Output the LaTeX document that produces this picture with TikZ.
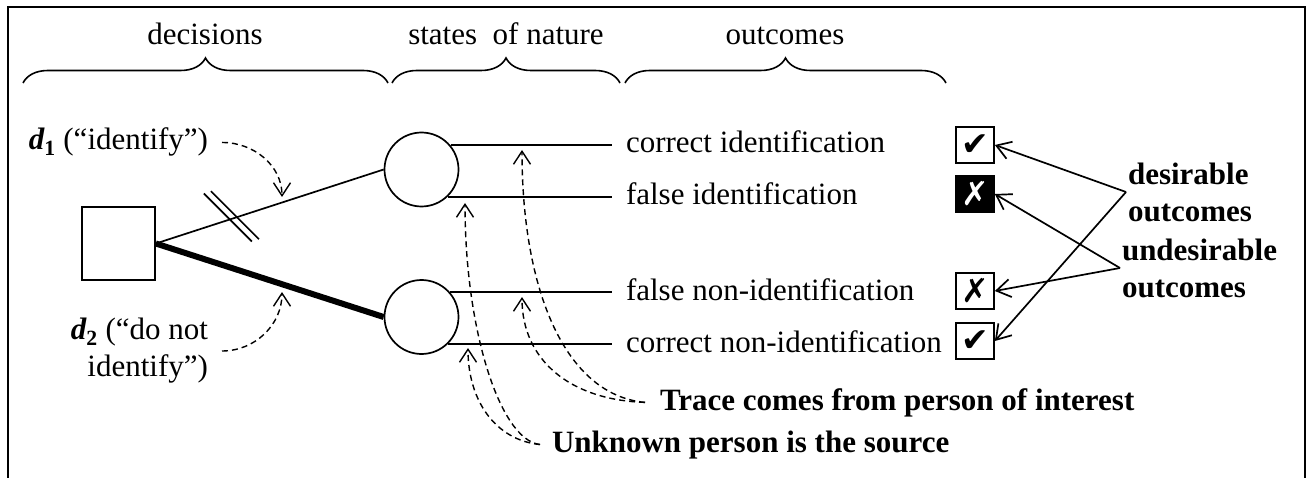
\documentclass[tikz,border=0pt]{standalone}
\usepackage{fontspec}
\setmainfont{Liberation Serif}
\newfontfamily\symfont{DejaVu Sans}
\usetikzlibrary{arrows.meta,decorations.pathreplacing}
\begin{document}
\begin{tikzpicture}[x=1pt,y=-1pt,
  every node/.style={font=\fontsize{31}{37}\selectfont},
  thinl/.style={line width=1.7pt},
  bracel/.style={line width=1.6pt, decorate, decoration={brace, amplitude=25pt}},
  tick/.style={draw, line width=1.7pt, minimum width=38pt, minimum height=36pt, inner sep=0pt, font=\symfont\fontsize{33}{33}\selectfont},
  outcome/.style={anchor=base west, inner xsep=0pt, outer xsep=14pt},
  note/.style={font=\bfseries\fontsize{31}{37}\selectfont},
  dasharrow/.style={line width=1.4pt, dash pattern=on 6pt off 4pt, -{Straight Barb[length=13pt,width=17pt]}},
  pointer/.style={line width=1.7pt, -{Straight Barb[length=14pt,width=18pt]}}]
\useasboundingbox (0,0) rectangle (1308,478);
% frame
\draw[line width=2.5pt] (8,478) -- (8,7) -- (1305,7) -- (1305,478);
% headings and braces
\node[anchor=base] (hdec) at (205,45) {decisions};
\node[anchor=base] (hsta) at (506,45) {states\ \ of nature};
\node[anchor=base] (hout) at (785,45) {outcomes};
\draw[bracel] (23,83) -- (388,83);
\draw[bracel] (392,83) -- (620,83);
\draw[bracel] (625,83) -- (946,83);
% decision node and chance nodes
\node[draw, line width=1.7pt, minimum size=73pt, inner sep=0pt] (sq) at (118.5,243.5) {};
\node[draw, circle, line width=1.7pt, minimum size=74pt, inner sep=0pt] (c1) at (421.5,169.5) {};
\node[draw, circle, line width=1.7pt, minimum size=74pt, inner sep=0pt] (c2) at (421.5,317) {};
\draw[thinl] (sq.east) -- (c1.west);
\draw[line width=6pt] (sq.east) -- (c2.west);
% double slash
\path (sq.east) -- (c1.west) coordinate[pos=0.325] (m1) coordinate[pos=0.356] (m2);
\draw[thinl] (m1) ++(-26,-26) -- ++(48,48);
\draw[thinl] (m2) ++(-26,-26) -- ++(48,48);
% outcomes
\node[outcome] (o1) at (612,153) {correct identification};
\node[outcome] (o2) at (612,205) {false identification};
\node[outcome] (o3) at (612,300) {false non-identification};
\node[outcome] (o4) at (612,352) {correct non-identification};
\draw[thinl] (c1.40.5) -- (c1.40.5 -| o1.west);
\draw[thinl] (c1.-46.8) -- (c1.-46.8 -| o2.west);
\draw[thinl] (c2.41.5) -- (c2.41.5 -| o3.west);
\draw[thinl] (c2.-45.7) -- (c2.-45.7 -| o4.west);
% tick boxes
\node[tick] (b1) at (975,145) {✔};
\node[tick, fill=black, text=white] (b2) at (975,194) {✗};
\node[tick] (b3) at (975,291) {✗};
\node[tick] (b4) at (975,341) {✔};
% right labels
\node[note, anchor=west, align=left, inner sep=2pt, outer sep=0pt] (des) at (1126,192) {desirable\\outcomes};
\node[note, anchor=west, align=left, inner sep=2pt, outer sep=0pt] (und) at (1120,268) {undesirable\\outcomes};
\draw[pointer] (des.west) -- (b1.east);
\draw[pointer] (des.west) -- (b4.east);
\draw[pointer] (und.west) -- (b2.east);
\draw[pointer] (und.west) -- (b3.east);
% decision labels
\node[anchor=base east, inner xsep=0pt, outer xsep=14pt] (d1) at (222,150) {{\bfseries\itshape d}\textsubscript{\bfseries 1} (``identify'')};
\node[anchor=east, align=right, inner xsep=0pt, outer xsep=14pt] (d2) at (222,351) {{\bfseries\itshape d}\textsubscript{\bfseries 2} (``do not\\identify'')};
\coordinate (t1) at (282,197);
\coordinate (t2) at (282,292);
\draw[dasharrow] (d1.east) to[out=0,in=90] (t1);
\draw[dasharrow] (d2.east) to[out=0,in=-90] (t2);
% states labels
\node[note, anchor=base west, inner xsep=0pt, outer xsep=15pt] (trace) at (645,410) {Trace comes from person of interest};
\node[note, anchor=base west, inner xsep=0pt, outer xsep=12pt] (unk) at (540,452) {Unknown person is the source};
\coordinate (ta) at (522,150);
\coordinate (tb) at (522,297);
\coordinate (tc) at (465,203);
\coordinate (td) at (468,348);
\draw[dasharrow] (trace.west) .. controls (565,395) and (522,290) .. (ta);
\draw[dasharrow] (trace.west) .. controls (570,400) and (522,360) .. (tb);
\draw[dasharrow] (unk.west) .. controls (500,440) and (465,330) .. (tc);
\draw[dasharrow] (unk.west) .. controls (495,440) and (468,400) .. (td);
\end{tikzpicture}
\end{document}
